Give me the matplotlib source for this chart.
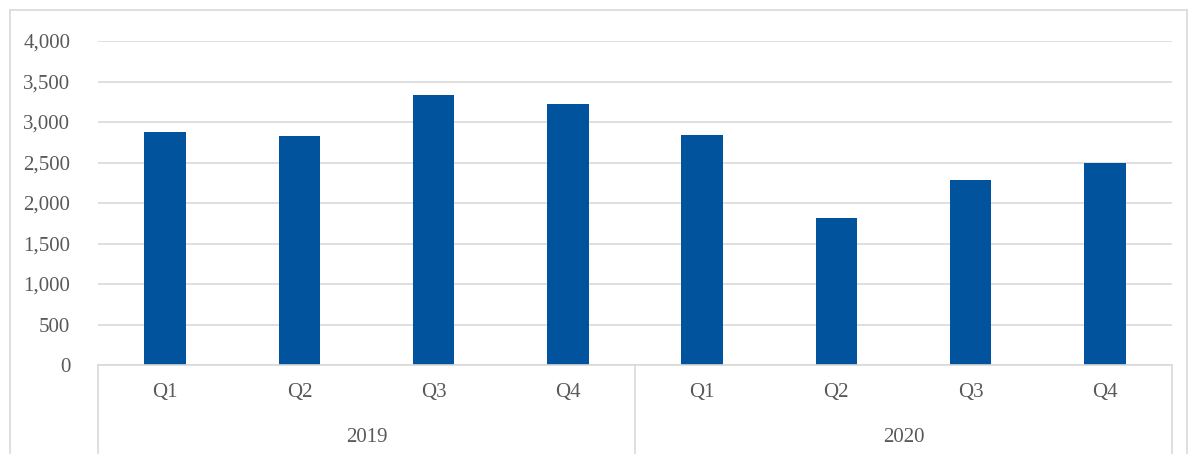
import numpy as np
import matplotlib.pyplot as plt
from matplotlib.lines import Line2D

# data
quarters = ['Q1', 'Q2', 'Q3', 'Q4', 'Q1', 'Q2', 'Q3', 'Q4']
years = ['2019', '2020']
values = [2880, 2830, 3335, 3225, 2840, 1815, 2285, 2495]

plt.rcParams['font.family'] = ['Liberation Serif', 'DejaVu Serif']
grey = '#595959'
line_c = '#D9D9D9'
fs = 15

W, H = 1188, 454
fig = plt.figure(figsize=(W / 100, H / 100), dpi=100)
ax = fig.add_axes([98 / W, (H - 365) / H, (1172 - 98) / W, (365 - 41) / H])

x = np.arange(len(values))
ax.bar(x, values, width=0.31, color='#00539C', zorder=3)

ax.set_xlim(-0.5, len(values) - 0.5)
ax.set_ylim(0, 4000)
ax.set_yticks(np.arange(0, 4001, 500))
ax.set_yticklabels([f'{v:,}' for v in range(0, 4001, 500)])
ax.yaxis.grid(True, color=line_c, linewidth=1.2, zorder=0)
ax.tick_params(axis='y', length=0, pad=20, labelsize=fs, labelcolor=grey)
ax.set_xticks([])
for s in ['top', 'right', 'left']:
    ax.spines[s].set_visible(False)
ax.spines['bottom'].set_color(line_c)
ax.spines['bottom'].set_linewidth(1.2)
ax.spines['bottom'].set_zorder(4)

# two level category axis
trans = ax.get_xaxis_transform()
for i, q in enumerate(quarters):
    ax.text(i, -27 / 324, q, transform=trans, ha='center', va='center',
            fontsize=fs, color=grey)
for j, y in enumerate(years):
    ax.text(j * 4 + 1.5, -72 / 324, y, transform=trans, ha='center', va='center',
            fontsize=fs, color=grey)
for xb in [-0.5, 3.5, 7.5]:
    ax.plot([xb, xb], [0, -0.4], transform=trans, color=line_c, linewidth=1.2,
            clip_on=False)

# chart border
for xs, ys in [([10, 10], [10, H + 5]), ([10, 1187], [10, 10]), ([1187, 1187], [10, H + 5])]:
    fig.add_artist(Line2D([v / W for v in xs], [1 - v / H for v in ys],
                          transform=fig.transFigure, color=line_c, linewidth=1.2))

fig.savefig('out.png', dpi=100)
